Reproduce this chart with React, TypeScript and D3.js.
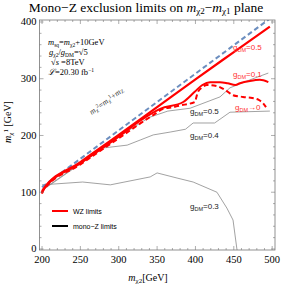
import * as d3 from 'd3';

const xTicks = [200, 250, 300, 350, 400, 450, 500];
const yTicks = [0, 100, 200, 300, 400];

// kinematic threshold m_chi1 = m_chi2 - m_Z
const thresholdLine: [number, number][] = [[200, 109], [500, 409]];

// WZ limits (red)
const wz05: [number, number][] = [
  [200, 98], [201, 104], [250, 153], [300, 201], [350, 250], [400, 299], [450, 347], [497, 392],
];
const wz01: [number, number][] = [
  [200, 98], [201, 103], [250, 151], [300, 198], [330, 228], [354, 247], [384, 259], [399, 277],
  [409, 289], [419, 294], [432, 294], [442, 292], [452, 289], [458, 292], [471, 296], [484, 298], [495, 294],
];
const wz0: [number, number][] = [
  [200, 98], [201, 102], [250, 149], [300, 195], [330, 223], [345, 236], [358, 247], [371, 250],
  [384, 254], [399, 259], [403, 276], [409, 285], [415, 289], [428, 287], [439, 280], [449, 271],
  [462, 268], [474, 266], [482, 263], [488, 257], [492, 250],
];

// mono-Z limits (grey)
const monoZ05: [number, number][] = [
  [200, 103], [250, 150], [300, 198], [340, 232], [364, 243], [393, 248], [432, 268], [445, 284],
  [458, 291], [471, 298], [495, 310],
];
const monoZ04: [number, number][] = [
  [200, 104], [250, 151], [280, 178], [311, 183], [328, 192], [345, 201], [367, 206], [387, 211],
  [397, 222], [425, 222], [445, 241], [497, 243],
];
const monoZ03: [number, number][] = [
  [200, 113], [253, 118], [289, 113], [341, 127], [350, 134], [376, 125], [397, 118], [428, 100],
  [441, 72], [449, 51], [454, 0], [455, -5],
];

const W = 292;
const H = 288;
const left = 39.5, right = 275, top = 20, bottom = 250;

export default function App() {
  const x = d3.scaleLinear().domain([196.7, 503.7]).range([left, right]);
  const y = d3.scaleLinear().domain([-1.8, 403.5]).range([bottom, top]);

  const straight = d3.line<[number, number]>().x(d => x(d[0])).y(d => y(d[1]));
  const smooth = d3.line<[number, number]>().x(d => x(d[0])).y(d => y(d[1])).curve(d3.curveMonotoneX);

  const xMinor = d3.range(200, 501, 10);
  const yMinor = d3.range(0, 401, 20);
  const frame = '#777';
  const serif = '"Liberation Serif", "DejaVu Serif", serif';
  const sans = '"Liberation Sans", Arial, sans-serif';

  const angle = (Math.atan2(y(400) - y(300), x(391) - x(291)) * 180) / Math.PI;

  const gLabel = (px: number, py: number, val: string, color: string) => (
    <text x={px} y={py} fontFamily={sans} fontSize={8} fill={color}>
      g<tspan fontSize={5.5} dy={1.5}>DM</tspan><tspan dy={-1.5}>{val}</tspan>
    </text>
  );

  return (
    <svg width={W} height={H} style={{ position: 'absolute', left: 0, top: 0, background: '#fff' }}>
      <defs>
        <clipPath id="plot">
          <rect x={left} y={top} width={right - left} height={bottom - top} />
        </clipPath>
      </defs>

      <text x={146} y={11.5} textAnchor="middle" fontFamily={serif} fontSize={13.5} fill="#000">
        Mono−Z exclusion limits on <tspan fontStyle="italic">m</tspan>
        <tspan fontSize={9} dy={2.5}>χ2</tspan><tspan dy={-2.5}>−</tspan>
        <tspan fontStyle="italic">m</tspan><tspan fontSize={9} dy={2.5}>χ1</tspan>
        <tspan dy={-2.5}> plane</tspan>
      </text>

      <g clipPath="url(#plot)" fill="none">
        <path d={straight(monoZ05) ?? ''} stroke="#8a8a8a" strokeWidth={0.8} />
        <path d={straight(monoZ04) ?? ''} stroke="#8a8a8a" strokeWidth={0.8} />
        <path d={straight(monoZ03) ?? ''} stroke="#8a8a8a" strokeWidth={0.8} />
        <path d={straight(thresholdLine) ?? ''} stroke="#6c8ebf" strokeWidth={2} strokeDasharray="5,3" />
        <path d={smooth(wz05) ?? ''} stroke="#ff0000" strokeWidth={2.2} />
        <path d={smooth(wz01) ?? ''} stroke="#ff0000" strokeWidth={2} />
        <path d={smooth(wz0) ?? ''} stroke="#ff0000" strokeWidth={2} strokeDasharray="5,3" />
      </g>

      {/* frame */}
      <rect x={left} y={top} width={right - left} height={bottom - top} fill="none" stroke={frame} strokeWidth={0.8} />
      {xMinor.map(v => {
        const major = v % 50 === 0;
        const len = major ? 4 : 2;
        return (
          <g key={'x' + v} stroke={frame} strokeWidth={0.6}>
            <line x1={x(v)} x2={x(v)} y1={bottom} y2={bottom - len} />
            <line x1={x(v)} x2={x(v)} y1={top} y2={top + len} />
          </g>
        );
      })}
      {yMinor.map(v => {
        const major = v % 100 === 0;
        const len = major ? 4 : 2;
        return (
          <g key={'y' + v} stroke={frame} strokeWidth={0.6}>
            <line x1={left} x2={left + len} y1={y(v)} y2={y(v)} />
            <line x1={right} x2={right - len} y1={y(v)} y2={y(v)} />
          </g>
        );
      })}
      {xTicks.map(v => (
        <text key={'xt' + v} x={x(v)} y={bottom + 12.5} textAnchor="middle" fontFamily={serif} fontSize={10.5} fill="#000">
          {v}
        </text>
      ))}
      {yTicks.map(v => (
        <text key={'yt' + v} x={left - 3} y={y(v) + 3.5} textAnchor="end" fontFamily={serif} fontSize={10.5} fill="#000">
          {v}
        </text>
      ))}

      <text x={148} y={281} textAnchor="middle" fontFamily={serif} fontSize={10} fill="#000">
        <tspan fontStyle="italic">m</tspan><tspan fontSize={7} dy={2}>χ2</tspan><tspan dy={-2}>[GeV]</tspan>
      </text>
      <text transform="translate(11,122) rotate(-90)" textAnchor="middle" fontFamily={serif} fontSize={10} fill="#000">
        <tspan fontStyle="italic">m</tspan><tspan fontSize={7} dy={2}>χ</tspan><tspan fontSize={7} dy={-5}>1</tspan>
        <tspan dy={3}> [GeV]</tspan>
      </text>

      {/* parameter block */}
      <g fontFamily={serif} fontSize={8.5} fill="#000">
        <text x={48} y={45}>
          <tspan fontStyle="italic">m</tspan><tspan fontSize={5.5} dy={1.5}>sq</tspan><tspan dy={-1.5}>=</tspan>
          <tspan fontStyle="italic">m</tspan><tspan fontSize={5.5} dy={1.5}>χ2</tspan><tspan dy={-1.5}>+10GeV</tspan>
        </text>
        <text x={49} y={55}>
          <tspan fontStyle="italic">g</tspan><tspan fontSize={5.5} dy={1.5}>χ2</tspan><tspan dy={-1.5}>/</tspan>
          <tspan fontStyle="italic">g</tspan><tspan fontSize={5.5} dy={1.5}>DM</tspan><tspan dy={-1.5}>=√5</tspan>
        </text>
        <text x={51} y={65}>
          √<tspan fontStyle="italic">s</tspan> =8TeV
        </text>
        <text x={48} y={75}>
          <tspan fontStyle="italic">ℒ</tspan>=20.30 fb<tspan fontSize={5.5} dy={-3}>−1</tspan>
        </text>
      </g>

      <text transform={`translate(108,103) rotate(${angle})`} textAnchor="middle" fontFamily={serif} fontSize={8} fill="#333">
        <tspan fontStyle="italic">m</tspan><tspan fontSize={5.5} dy={1}>χ</tspan><tspan fontSize={5.5} dy={-3.5}>2</tspan>
        <tspan dy={2.5}>=</tspan><tspan fontStyle="italic">m</tspan><tspan fontSize={5.5} dy={1}>χ</tspan><tspan fontSize={5.5} dy={-3.5}>1</tspan>
        <tspan dy={2.5}>+</tspan><tspan fontStyle="italic">m</tspan><tspan fontSize={5.5} dy={1}>Z</tspan>
      </text>

      {gLabel(233, 50, '=0.5', '#ff3030')}
      {gLabel(233, 77, '=0.1', '#ff3030')}
      {gLabel(235, 110, '→0', '#ff3030')}
      {gLabel(190, 114, '=0.5', '#222')}
      {gLabel(190, 138, '=0.4', '#222')}
      {gLabel(190, 209, '=0.3', '#222')}

      {/* legend */}
      <line x1={52} x2={68} y1={211} y2={211} stroke="#ff0000" strokeWidth={2} />
      <text x={73} y={213.5} fontFamily={sans} fontSize={7} fill="#000">WZ limits</text>
      <line x1={52} x2={68} y1={226} y2={226} stroke="#000" strokeWidth={2} />
      <text x={73} y={228.5} fontFamily={sans} fontSize={7} fill="#000">mono−Z limits</text>
    </svg>
  );
}
